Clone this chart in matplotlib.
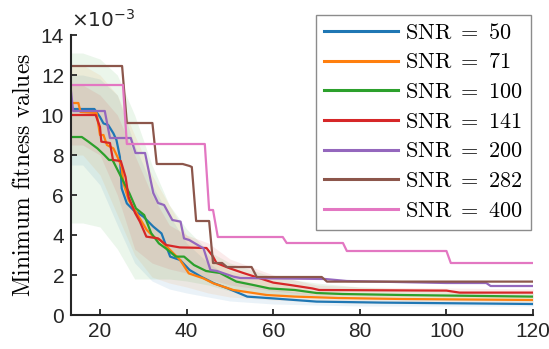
import matplotlib
matplotlib.use("Agg")
import matplotlib.pyplot as plt
import numpy as np

plt.rcParams['mathtext.fontset'] = 'cm'
plt.rcParams['font.family'] = ['Liberation Sans', 'DejaVu Sans']

# Data (values in units of 1e-3), breakpoints of each curve
labels = ['SNR = 50', 'SNR = 71', 'SNR = 100', 'SNR = 141', 'SNR = 200', 'SNR = 282', 'SNR = 400']
colors = ['#1f77b4', '#ff7f0e', '#2ca02c', '#d62728', '#9467bd', '#8c564b', '#e377c2']

x50 = [13.3, 18.7, 20, 20.8, 21.9, 23.1, 23.8, 24.6, 25.0, 26.2, 27.7, 30.0, 32.3, 34.2, 36.2, 38.5, 40.7, 43.3, 46.4, 49.5, 54.0, 60.0, 65.0, 70.0, 85.0, 120]
y50 = [10.3, 10.3, 9.9, 9.58, 9.5, 9.08, 8.75, 7.9, 6.33, 5.58, 5.25, 4.92, 4.42, 4.08, 2.92, 2.75, 2.25, 1.92, 1.58, 1.33, 0.92, 0.83, 0.75, 0.67, 0.62, 0.55]

x71 = [13.3, 15.0, 15.5, 19.2, 20.0, 20.8, 21.6, 23.1, 24.2, 25.0, 25.4, 26.6, 28.5, 30.8, 32.3, 33.9, 36.2, 38.5, 40.5, 43.9, 46.2, 50.8, 58.5, 65.0, 75.0, 90.0, 120]
y71 = [10.6, 10.6, 10.15, 10.1, 9.0, 9.0, 8.5, 8.33, 7.83, 7.4, 6.6, 5.75, 5.08, 4.25, 3.92, 3.75, 3.25, 2.75, 2.08, 1.83, 1.58, 1.25, 1.0, 0.92, 0.85, 0.8, 0.75]

x100 = [13.3, 15.8, 17.3, 19.4, 21.0, 22.1, 22.9, 26.8, 28.3, 30.2, 31.8, 33.6, 35.2, 37.5, 39.4, 41.7, 44.5, 47.7, 51.5, 55.4, 59.1, 65.0, 70.0, 76.0, 90.0, 120]
y100 = [8.9, 8.9, 8.67, 8.33, 8.0, 7.75, 7.75, 6.08, 5.33, 5.0, 4.1, 3.58, 3.33, 2.92, 2.92, 2.5, 2.2, 2.1, 1.67, 1.5, 1.33, 1.25, 1.1, 1.05, 1.0, 0.92]

x141 = [13.3, 19.0, 20.0, 20.3, 22.3, 23.0, 24.8, 25.9, 26.6, 28.1, 29.2, 30.7, 33.4, 35.3, 38.4, 44.6, 46.1, 46.9, 50.0, 53.1, 57.0, 60.0, 63.9, 69.0, 70.6, 100.0, 103.0, 120]
y141 = [10.0, 10.0, 9.4, 8.67, 8.6, 7.75, 7.7, 6.9, 5.9, 5.1, 4.67, 3.92, 3.83, 3.5, 3.38, 3.35, 2.92, 2.6, 2.33, 2.1, 1.83, 1.62, 1.5, 1.33, 1.25, 1.22, 1.12, 1.12]

x200 = [13.3, 13.8, 21.1, 22.3, 27.1, 28.2, 30.4, 32.3, 33.4, 34.8, 36.7, 38.6, 39.4, 40.6, 43.9, 45.5, 47.0, 50.8, 52.4, 72.0, 77.0, 100.0, 109.2, 110.2, 120]
y200 = [11.2, 10.2, 10.2, 8.85, 8.85, 8.1, 8.1, 6.1, 5.6, 5.5, 4.75, 4.67, 3.83, 3.75, 3.33, 2.25, 2.2, 1.92, 1.85, 1.8, 1.7, 1.6, 1.6, 1.45, 1.45]

x282 = [13.3, 25.1, 26.2, 32.1, 33.1, 39.1, 40.7, 41.2, 42.2, 45.2, 46.1, 48.2, 49.3, 55.0, 56.2, 71.2, 72.4, 120]
y282 = [12.45, 12.45, 9.6, 9.6, 7.55, 7.55, 7.45, 7.4, 4.7, 4.7, 2.6, 2.6, 2.4, 2.4, 1.9, 1.9, 1.67, 1.67]

x400 = [13.3, 25.3, 26.2, 44.2, 45.2, 46.1, 47.2, 62.2, 63.1, 76.1, 77.0, 100.0, 101.0, 120]
y400 = [11.5, 11.5, 8.55, 8.55, 5.25, 5.25, 3.9, 3.9, 3.6, 3.6, 3.2, 3.2, 2.6, 2.6]

series_x = [x50, x71, x100, x141, x200, x282, x400]
series_y = [y50, y71, y100, y141, y200, y282, y400]

# Shaded spread bands (units of 1e-3)
band_x = [13.3, 16, 20, 24, 28, 32, 36, 40, 45, 50, 60, 70, 80, 100, 120]
band50_lo = [7.5, 7.5, 6.5, 4.5, 2.6, 1.7, 1.3, 1.1, 0.9, 0.7, 0.55, 0.5, 0.45, 0.45, 0.45]
band50_hi = [12.0, 12.0, 11.8, 11.0, 8.5, 6.5, 5.0, 3.6, 2.6, 1.9, 1.3, 1.0, 0.9, 0.8, 0.7]
band71_lo = [8.0, 8.0, 7.0, 5.0, 3.0, 1.9, 1.6, 1.4, 1.1, 0.9, 0.75, 0.65, 0.6, 0.6, 0.55]
band71_hi = [12.5, 12.5, 12.0, 11.0, 9.0, 7.0, 5.5, 4.0, 3.0, 2.2, 1.6, 1.2, 1.1, 1.0, 0.95]
band100_lo = [4.6, 4.6, 4.4, 3.3, 1.8, 1.8, 1.8, 1.7, 1.5, 1.2, 1.0, 0.9, 0.8, 0.75, 0.7]
band100_hi = [13.1, 13.1, 12.8, 12.0, 10.0, 7.5, 5.5, 4.3, 3.2, 2.6, 1.9, 1.6, 1.4, 1.2, 1.1]
band141_lo = [8.5, 8.5, 8.0, 6.0, 3.3, 2.6, 2.3, 2.1, 1.8, 1.5, 1.2, 1.0, 0.95, 0.9, 0.9]
band141_hi = [11.5, 11.5, 11.0, 10.0, 8.0, 6.0, 4.5, 4.0, 3.6, 2.8, 2.0, 1.5, 1.4, 1.35, 1.3]

bands = [(band50_lo, band50_hi, 0), (band71_lo, band71_hi, 1),
         (band100_lo, band100_hi, 2), (band141_lo, band141_hi, 3)]

xticks = [20, 40, 60, 80, 100, 120]
yticks = [0, 2, 4, 6, 8, 10, 12, 14]

fig = plt.figure(figsize=(5.49, 3.49), dpi=100)
ax = fig.add_axes([0.1293, 0.0974, 0.971 - 0.1293, 0.8997 - 0.0974])

for lo, hi, ci in bands:
    ax.fill_between(band_x, lo, hi, color=colors[ci], alpha=0.09, linewidth=0)

handles = []
for xs, ys, c, lab in zip(series_x, series_y, colors, labels):
    num = lab.split('=')[1].strip()
    h, = ax.plot(xs, ys, color=c, lw=1.6, label=r'$\mathrm{SNR}\ =\ ' + num + '$')
    handles.append(h)

ax.set_xlim(13.3, 120)
ax.set_ylim(0, 14)
ax.set_xticks(xticks)
ax.set_yticks(yticks)
ax.tick_params(direction='in', length=4.5, width=1.3, labelsize=15, colors='#262626', pad=5)
for s in ['top', 'right']:
    ax.spines[s].set_visible(False)
for s in ['left', 'bottom']:
    ax.spines[s].set_linewidth(1.5)
    ax.spines[s].set_color('#262626')

ax.set_ylabel(r'$\mathrm{Minimum\ fitness\ values}$', fontsize=17, labelpad=4)
ax.text(0.0, 1.015, r'$\times10^{-3}$', transform=ax.transAxes, fontsize=14.5,
        ha='left', va='bottom', color='#262626',
        math_fontfamily='dejavusans')

leg = fig.legend(handles=handles, loc='upper right',
                 bbox_to_anchor=(531 / 549, 1 - 15 / 349),
                 fontsize=16, frameon=True, fancybox=False, edgecolor='#707070',
                 handlelength=3.3, handletextpad=0.35, labelspacing=0.39,
                 borderpad=0.35, borderaxespad=0)
leg.get_frame().set_linewidth(1.0)
for line in leg.get_lines():
    line.set_linewidth(2.2)

fig.savefig('out.png', dpi=100)
